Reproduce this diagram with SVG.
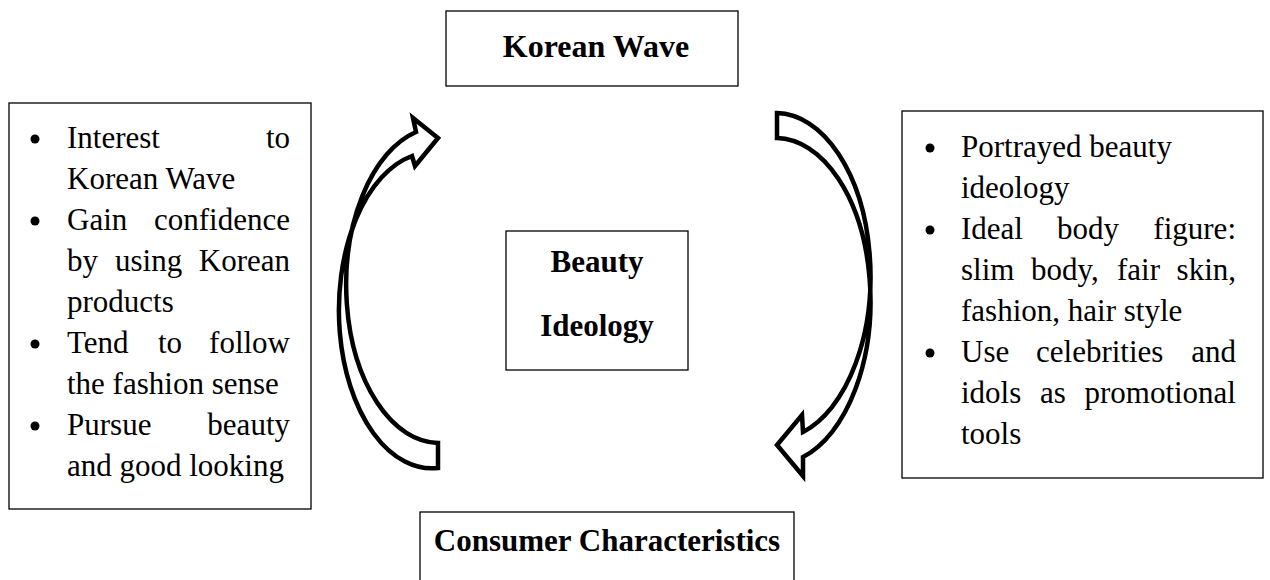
<svg xmlns="http://www.w3.org/2000/svg" width="1270" height="580" viewBox="0 0 1270 580">
<style>
.box{fill:#fff;stroke:#000;stroke-width:1.3}
.t{font-family:"Liberation Serif","Times New Roman",serif;font-size:31px;fill:#000}
.e{text-anchor:end}
.b{font-family:"Liberation Serif","Times New Roman",serif;font-size:31px;font-weight:bold;fill:#000;text-anchor:middle}
.arrow{fill:#fff;stroke:#000;stroke-width:4.5;stroke-linejoin:miter}
</style>
<rect width="1270" height="580" fill="#fff"/>
<g id="korean-wave">
<rect class="box" x="446" y="11" width="292" height="75"/>
<text class="b" x="596" y="57" style="font-size:32px">Korean Wave</text>
</g>
<g id="beauty-ideology">
<rect class="box" x="506" y="231" width="182" height="139"/>
<text class="b" x="597" y="272">Beauty</text>
<text class="b" x="597" y="336">Ideology</text>
</g>
<g id="consumer-characteristics">
<rect class="box" x="420" y="512" width="374" height="80"/>
<text class="b" x="607" y="551">Consumer Characteristics</text>
</g>
<g id="left-list">
<rect class="box" x="9" y="103" width="302" height="406"/>
<g fill="#000"><circle cx="35" cy="139" r="4.5"/><circle cx="35" cy="221" r="4.5"/><circle cx="35" cy="344" r="4.5"/><circle cx="35" cy="426" r="4.5"/></g>
<text class="t" x="67" y="148">Interest</text><text class="t e" x="290" y="148">to</text>
<text class="t" x="67" y="189">Korean Wave</text>
<text class="t" x="67" y="230">Gain</text><text class="t e" x="290" y="230">confidence</text>
<text class="t" x="67" y="271">by</text><text class="t" x="115" y="271">using</text><text class="t e" x="290" y="271">Korean</text>
<text class="t" x="67" y="312">products</text>
<text class="t" x="67" y="353">Tend</text><text class="t" x="158" y="353">to</text><text class="t e" x="290" y="353">follow</text>
<text class="t" x="67" y="394">the fashion sense</text>
<text class="t" x="67" y="435">Pursue</text><text class="t e" x="290" y="435">beauty</text>
<text class="t" x="67" y="476">and good looking</text>
</g>
<g id="right-list">
<rect class="box" x="902" y="111" width="361" height="367"/>
<g fill="#000"><circle cx="930" cy="148" r="4.5"/><circle cx="930" cy="230" r="4.5"/><circle cx="930" cy="353" r="4.5"/></g>
<text class="t" x="961" y="157">Portrayed beauty</text>
<text class="t" x="961" y="198">ideology</text>
<text class="t" x="961" y="239">Ideal</text><text class="t" x="1057" y="239">body</text><text class="t e" x="1236" y="239">figure:</text>
<text class="t" x="961" y="280">slim</text><text class="t" x="1031" y="280">body,</text><text class="t" x="1117" y="280">fair</text><text class="t e" x="1236" y="280">skin,</text>
<text class="t" x="961" y="321">fashion, hair style</text>
<text class="t" x="961" y="362">Use</text><text class="t" x="1036" y="362">celebrities</text><text class="t e" x="1236" y="362">and</text>
<text class="t" x="961" y="403">idols</text><text class="t" x="1040" y="403">as</text><text class="t e" x="1236" y="403">promotional</text>
<text class="t" x="961" y="444">tools</text>
</g>
<g id="connectors">
<path class="arrow" d="M416,132 A93,158 0 0 0 438,443 L438,468 A93,158 0 0 1 412,156 L415,166 L438,138 L413,118 Z"/>
<path class="arrow" d="M777,113 A95,163 0 0 1 803,432 L802,415 L777,445 L803,476 L803,457 A95,163 0 0 0 777,138 Z"/>
</g>
</svg>
